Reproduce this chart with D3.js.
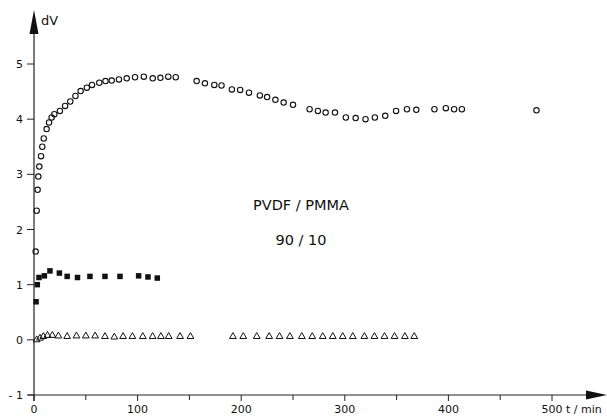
<!DOCTYPE html>
<html>
<head>
<meta charset="utf-8">
<script src="https://cdn.jsdelivr.net/npm/d3@7"></script>
<style>
  body { margin: 0; background: #fff; }
  svg text { font-family: "DejaVu Sans", sans-serif; fill: #111; }
</style>
</head>
<body>
<svg id="chart" width="607" height="418"></svg>
<script>
// open circles (upper curve)
var circleT = [1.6, 2.6, 3.5, 4.2, 5.1, 6.8, 8, 9.4, 12.2, 14.5,
  17, 19.6, 25, 30, 35, 40, 45, 51, 56, 63,
  69, 75, 82, 89.5, 97.5, 106, 114.6, 122, 129.6, 136.8,
  157, 165, 174, 181, 191, 199, 207.5, 218, 225, 233,
  241, 250, 266, 274, 281.5, 290.5, 301, 310.5, 320, 329,
  339, 349.5, 360, 369, 386.5, 397.5, 405.5, 413, 485];
var circleV = [1.60, 2.34, 2.72, 2.96, 3.14, 3.33, 3.50, 3.65, 3.82, 3.94,
  4.03, 4.09, 4.15, 4.24, 4.32, 4.42, 4.51, 4.57, 4.62, 4.66,
  4.69, 4.70, 4.72, 4.74, 4.76, 4.77, 4.74, 4.75, 4.77, 4.76,
  4.69, 4.65, 4.62, 4.61, 4.54, 4.53, 4.48, 4.43, 4.40, 4.35,
  4.30, 4.26, 4.18, 4.15, 4.12, 4.12, 4.03, 4.02, 4.00, 4.03,
  4.06, 4.15, 4.18, 4.17, 4.18, 4.20, 4.18, 4.18, 4.16];

// filled squares
var squareT = [2, 3.2, 4.8, 10, 15.4, 24.5, 32, 42, 54, 68.5, 83, 101, 110, 119];
var squareV = [0.69, 1.00, 1.13, 1.16, 1.25, 1.21, 1.15, 1.13, 1.15, 1.15, 1.15, 1.16, 1.14, 1.12];

// open triangles
var triT = [2.6, 5.8, 9, 13, 17.7, 23.5, 32, 41, 50, 59,
  68.5, 77.5, 86, 95, 105, 114.5, 122.5, 130, 141, 151,
  192, 202, 215, 227, 237, 247, 258.5, 268.6, 278.7, 288.4,
  298, 307.7, 318.9, 328.6, 338.3, 348, 358, 367];
var triV = [0.00, 0.03, 0.06, 0.08, 0.08, 0.07, 0.06, 0.07, 0.07, 0.07,
  0.06, 0.05, 0.06, 0.06, 0.06, 0.06, 0.06, 0.06, 0.06, 0.06,
  0.06, 0.06, 0.06, 0.06, 0.06, 0.06, 0.06, 0.06, 0.06, 0.06,
  0.06, 0.06, 0.06, 0.06, 0.06, 0.06, 0.06, 0.06];

var xTicks = [0, 100, 200, 300, 400, 500];
var xMinor = [50, 150, 250, 350, 450];
var yTicks = [-1, 0, 1, 2, 3, 4, 5];
var label = ['PVDF / PMMA', '90 / 10'];

var svg = d3.select('#chart');
var x = d3.scaleLinear().domain([0, 500]).range([34, 552]);
var y = d3.scaleLinear().domain([-1, 5]).range([395, 64]);

// axes lines with arrow heads
svg.append('line')
  .attr('x1', x(0)).attr('x2', x(0)).attr('y1', 30).attr('y2', y(-1) + 6)
  .attr('stroke', '#222').attr('stroke-width', 1.2);
svg.append('path')
  .attr('d', `M${x(0)},10 L${x(0) - 4.5},34 L${x(0) + 4.5},34 Z`)
  .attr('fill', '#111');
svg.append('line')
  .attr('x1', x(0) - 6).attr('x2', 590).attr('y1', y(-1)).attr('y2', y(-1))
  .attr('stroke', '#222').attr('stroke-width', 1.2);
svg.append('path')
  .attr('d', `M607,${y(-1)} L586,${y(-1) - 4.5} L586,${y(-1) + 4.5} Z`)
  .attr('fill', '#111');

// y ticks
var gy = svg.append('g');
gy.selectAll('line').data(yTicks).enter().append('line')
  .attr('x1', x(0) - 7).attr('x2', x(0))
  .attr('y1', d => y(d)).attr('y2', d => y(d))
  .attr('stroke', '#222');
gy.selectAll('text').data(yTicks).enter().append('text')
  .attr('x', x(0) - 11).attr('y', d => y(d) + 4)
  .attr('text-anchor', 'end').attr('font-size', 11)
  .text(d => d < 0 ? '- ' + Math.abs(d) : d);

// x ticks
var gx = svg.append('g');
gx.selectAll('line.major').data(xTicks).enter().append('line')
  .attr('class', 'major')
  .attr('x1', d => x(d)).attr('x2', d => x(d))
  .attr('y1', y(-1)).attr('y2', y(-1) + 6)
  .attr('stroke', '#222');
gx.selectAll('line.minor').data(xMinor).enter().append('line')
  .attr('class', 'minor')
  .attr('x1', d => x(d)).attr('x2', d => x(d))
  .attr('y1', y(-1)).attr('y2', y(-1) + 5)
  .attr('stroke', '#222');
gx.selectAll('text').data(xTicks).enter().append('text')
  .attr('x', d => x(d)).attr('y', 413)
  .attr('text-anchor', 'middle').attr('font-size', 11)
  .text(d => d);

svg.append('text').attr('x', 566).attr('y', 413)
  .attr('font-size', 11).text('t / min');
svg.append('text').attr('x', 41).attr('y', 25)
  .attr('font-size', 13).text('dV');

// annotation
svg.selectAll('text.note').data(label).enter().append('text')
  .attr('class', 'note')
  .attr('x', 301).attr('y', (d, i) => 210 + i * 35)
  .attr('text-anchor', 'middle').attr('font-size', 14.5)
  .text(d => d);

// circles
svg.append('g').selectAll('circle').data(circleT).enter().append('circle')
  .attr('cx', d => x(d)).attr('cy', (d, i) => y(circleV[i]))
  .attr('r', 2.7).attr('fill', 'none')
  .attr('stroke', '#111').attr('stroke-width', 1.1);

// squares
var sq = 5.5;
svg.append('g').selectAll('rect').data(squareT).enter().append('rect')
  .attr('x', d => x(d) - sq / 2).attr('y', (d, i) => y(squareV[i]) - sq / 2)
  .attr('width', sq).attr('height', sq).attr('fill', '#111');

// triangles
var tri = d3.symbol().type(d3.symbolTriangle).size(20);
svg.append('g').selectAll('path').data(triT).enter().append('path')
  .attr('d', tri)
  .attr('transform', (d, i) => `translate(${x(d)},${y(triV[i])})`)
  .attr('fill', 'none').attr('stroke', '#111').attr('stroke-width', 1);
</script>
</body>
</html>
